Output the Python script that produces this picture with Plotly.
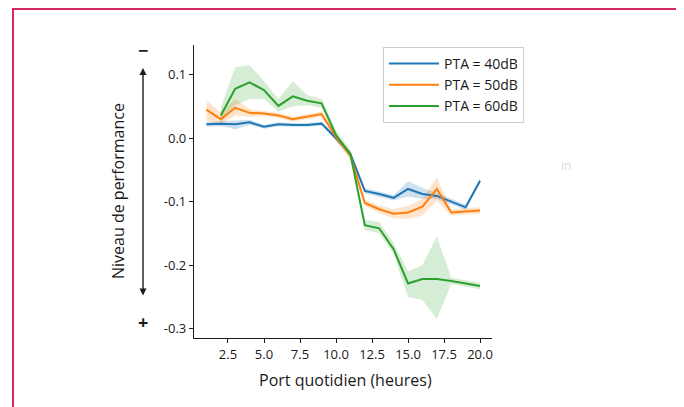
import plotly.graph_objects as go

# ---- data ----
hours = [1, 2, 3, 4, 5, 6, 7, 8, 9, 10, 11, 12, 13, 14, 15, 16, 17, 18, 19, 20]
hours_green = [2, 3, 4, 5, 6, 7, 8, 9, 10, 11, 12, 13, 14, 15, 16, 17, 18, 19, 20]

pta40 = [0.022, 0.023, 0.022, 0.025, 0.018, 0.022, 0.021, 0.021, 0.023, 0.000,
         -0.025, -0.083, -0.088, -0.094, -0.080, -0.088, -0.091, -0.100, -0.109, -0.067]
pta40_lo = [0.018, 0.019, 0.014, 0.021, 0.015, 0.019, 0.018, 0.018, 0.020, -0.004,
            -0.029, -0.087, -0.092, -0.098, -0.092, -0.096, -0.096, -0.104, -0.113, -0.071]
pta40_hi = [0.026, 0.027, 0.028, 0.029, 0.021, 0.025, 0.024, 0.024, 0.026, 0.004,
            -0.021, -0.079, -0.084, -0.090, -0.068, -0.078, -0.086, -0.096, -0.105, -0.063]

pta50 = [0.045, 0.030, 0.048, 0.040, 0.039, 0.036, 0.030, 0.034, 0.038, 0.002,
         -0.028, -0.102, -0.112, -0.119, -0.117, -0.108, -0.080, -0.117, -0.115, -0.114]
pta50_lo = [0.028, 0.022, 0.036, 0.034, 0.035, 0.032, 0.026, 0.030, 0.034, -0.003,
            -0.033, -0.107, -0.118, -0.126, -0.127, -0.122, -0.098, -0.122, -0.120, -0.119]
pta50_hi = [0.060, 0.040, 0.062, 0.046, 0.043, 0.040, 0.034, 0.038, 0.042, 0.007,
            -0.023, -0.097, -0.106, -0.112, -0.107, -0.096, -0.062, -0.112, -0.110, -0.109]

pta60 = [0.036, 0.078, 0.088, 0.076, 0.051, 0.066, 0.059, 0.055, 0.005, -0.025,
         -0.137, -0.142, -0.175, -0.229, -0.222, -0.222, -0.225, -0.229, -0.233]
pta60_lo = [0.024, 0.052, 0.062, 0.062, 0.042, 0.050, 0.052, 0.048, -0.002, -0.032,
            -0.145, -0.150, -0.183, -0.250, -0.255, -0.285, -0.230, -0.234, -0.238]
pta60_hi = [0.048, 0.112, 0.115, 0.090, 0.062, 0.090, 0.068, 0.062, 0.012, -0.018,
            -0.129, -0.132, -0.165, -0.210, -0.200, -0.155, -0.220, -0.224, -0.228]

series_names = ["PTA = 40dB", "PTA = 50dB", "PTA = 60dB"]
colors = ["#1f77b4", "#ff7f0e", "#2ca02c"]
bands = ["rgba(31,119,180,0.22)", "rgba(255,127,14,0.22)", "rgba(44,160,44,0.20)"]

x_ticks = [2.5, 5.0, 7.5, 10.0, 12.5, 15.0, 17.5, 20.0]
x_ticktext = ["2.5", "5.0", "7.5", "10.0", "12.5", "15.0", "17.5", "20.0"]
y_ticks = [0.1, 0.0, -0.1, -0.2, -0.3]
y_ticktext = ["0.1", "0.0", "-0.1", "-0.2", "-0.3"]

FONT = "Open Sans"
INK = "#1a1a1a"

fig = go.Figure()

data = [
    (hours, pta40, pta40_lo, pta40_hi),
    (hours, pta50, pta50_lo, pta50_hi),
    (hours_green, pta60, pta60_lo, pta60_hi),
]

for (xs, ys, lo, hi), band in zip(data, bands):
    fig.add_trace(go.Scatter(
        x=list(xs) + list(xs)[::-1],
        y=list(hi) + list(lo)[::-1],
        fill="toself", fillcolor=band, line=dict(width=0),
        mode="lines", hoverinfo="skip", showlegend=False))

for (xs, ys, lo, hi), name, col in zip(data, series_names, colors):
    fig.add_trace(go.Scatter(
        x=xs, y=ys, mode="lines", name=name,
        line=dict(color=col, width=2)))

axis_common = dict(
    showline=True, linecolor=INK, linewidth=1.2, ticks="outside",
    ticklen=4, tickwidth=1.1, tickcolor=INK, showgrid=False, zeroline=False,
    tickfont=dict(family=FONT, size=13, color=INK), mirror=False)

# The page body has an 8px margin, so the figure is 8px smaller and margins shifted
fig.update_layout(
    width=676, height=399,
    margin=dict(l=186, r=192, t=37, b=69),
    paper_bgcolor="white", plot_bgcolor="white",
    font=dict(family=FONT, color=INK),
    xaxis=dict(range=[0.14, 20.83], tickvals=x_ticks, ticktext=x_ticktext, **axis_common),
    yaxis=dict(range=[-0.315, 0.147], tickvals=y_ticks, ticktext=y_ticktext, **axis_common),
    legend=dict(x=(383 - 194) / 298, y=(338 - 47) / 293, xanchor="left", yanchor="top",
                bordercolor="#cccccc", borderwidth=1, bgcolor="white",
                font=dict(family=FONT, size=14, color=INK),
                itemwidth=50, tracegroupgap=0),
    showlegend=True,
)

# pink frame
fig.add_shape(type="rect", xref="paper", yref="paper",
              x0=(13 - 194) / 298, x1=(679 - 194) / 298,
              y0=(338 - 420) / 293, y1=(338 - 9) / 293,
              line=dict(color="#d6285c", width=2), fillcolor="rgba(0,0,0,0)", layer="below")

# axis titles
fig.add_annotation(text="Niveau de performance", xref="paper", yref="paper",
                   x=(118 - 194) / 298, y=(338 - 191) / 293, textangle=-90,
                   showarrow=False, font=dict(family=FONT, size=16, color=INK),
                   xanchor="center", yanchor="middle")
fig.add_annotation(text="Port quotidien (heures)", xref="paper", yref="paper",
                   x=(345 - 194) / 298, y=(338 - 380) / 293, showarrow=False,
                   font=dict(family=FONT, size=16, color=INK),
                   xanchor="center", yanchor="middle")

# double-headed arrow with - and + marks
fig.add_annotation(text="", xref="paper", yref="paper",
                   x=(143 - 194) / 298, y=(338 - 68) / 293,
                   ax=0, ay=229, axref="pixel", ayref="pixel",
                   showarrow=True, arrowhead=2, arrowside="end+start",
                   arrowsize=1, arrowwidth=1.4, arrowcolor=INK)
fig.add_annotation(text="<b>−</b>", xref="paper", yref="paper",
                   x=(143 - 194) / 298, y=(338 - 50) / 293, showarrow=False,
                   font=dict(family=FONT, size=18, color=INK),
                   xanchor="center", yanchor="middle")
fig.add_annotation(text="<b>+</b>", xref="paper", yref="paper",
                   x=(143 - 194) / 298, y=(338 - 322) / 293, showarrow=False,
                   font=dict(family=FONT, size=18, color=INK),
                   xanchor="center", yanchor="middle")

# faint watermark text
fig.add_annotation(text="in", xref="paper", yref="paper",
                   x=(566 - 194) / 298, y=(338 - 165) / 293, showarrow=False,
                   font=dict(family=FONT, size=12, color="#dcdcdc"),
                   xanchor="center", yanchor="middle")

fig.write_html("out.html")
